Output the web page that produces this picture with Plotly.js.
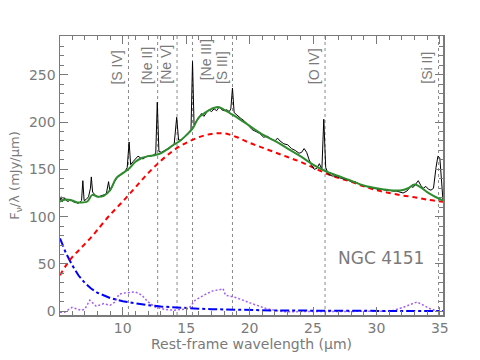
<!DOCTYPE html>
<html>
<head>
<meta charset="utf-8">
<script src="https://cdn.plot.ly/plotly-3.0.1.min.js"></script>
<style>
  body { margin: 0; background: #fff; }
  #plot { width: 480px; height: 360px; }
</style>
</head>
<body>
<div id="plot"></div>
<script>
// observed spectrum (black)
let specWave = [5.05, 5.15, 5.25, 5.4, 5.55, 5.7, 5.85, 6.0, 6.15, 6.3, 6.45, 6.6, 6.75, 6.85, 6.95,
  7.1, 7.3, 7.45, 7.52, 7.62, 7.75, 7.9, 8.1, 8.3, 8.5, 8.7, 8.88, 8.98, 9.15, 9.35, 9.55, 9.75,
  9.95, 10.15, 10.35, 10.5, 10.62, 10.8, 11.0, 11.2, 11.4, 11.6, 11.8, 12.0, 12.2, 12.4, 12.6,
  12.72, 12.85, 13.05, 13.3, 13.55, 13.8, 14.05, 14.25, 14.4, 14.6, 14.8, 15.0, 15.2, 15.38,
  15.5, 15.62, 15.8, 16.0, 16.2, 16.4, 16.6, 16.8, 17.0, 17.2, 17.4, 17.6, 17.8, 18.0, 18.2,
  18.4, 18.52, 18.65, 18.78, 19.0, 19.3, 19.6, 19.9, 20.2, 20.5, 20.8, 21.1, 21.4, 21.7, 22.0,
  22.2, 22.4, 22.7, 23.0, 23.3, 23.6, 23.9, 24.1, 24.3, 24.5, 24.7, 24.9, 25.1, 25.3, 25.5,
  25.7, 25.85, 26.0, 26.2, 26.5, 26.8, 27.1, 27.4, 27.7, 28.0, 28.3, 28.6, 28.9, 29.2, 29.5,
  29.8, 30.1, 30.4, 30.7, 31.0, 31.3, 31.6, 31.9, 32.1, 32.4, 32.7, 32.9, 33.1, 33.3, 33.5,
  33.7, 33.9, 34.1, 34.3, 34.5, 34.7, 34.85, 35.0, 35.1, 35.25];
let specFlux = [117, 121, 116, 120, 117, 116, 118, 117, 115, 116, 114, 115, 117, 138, 117,
  118, 121, 130, 142, 126, 124, 122, 121, 122, 123, 124, 137, 127, 131, 137, 141, 144,
  146, 147, 152, 179, 155, 158, 161, 164, 162, 161, 163, 164, 164, 165, 167,
  221, 169, 168, 170, 172, 174, 176, 205, 181, 181, 183, 186, 189, 192,
  264, 197, 201, 204, 209, 206, 210, 213, 211, 214, 212, 216, 213, 212, 213,
  211, 214, 236, 210, 207, 204, 201, 196, 192, 190, 188, 184, 185, 182, 180,
  183, 180, 177, 176, 172, 170, 167, 168, 172, 168, 160, 154, 150, 151, 156,
  150, 203, 152, 145, 143, 143, 141, 140, 139, 137, 137, 135, 133, 132, 131,
  130, 129, 129, 128, 128, 127, 127, 126, 125, 127, 132, 131, 135, 138, 133,
  130, 132, 129, 128, 130, 152, 164, 162, 140, 117];

// model fit (green)
let fitWave = [5.05, 5.5, 6.0, 6.4, 6.8, 7.2, 7.6, 8.0, 8.5, 9.0, 9.5, 10.0, 10.5, 11.0, 11.5,
  12.0, 12.5, 13.0, 13.5, 14.0, 14.5, 15.0, 15.5, 16.0, 16.5, 17.0, 17.5, 18.0, 18.5, 19.0,
  20.0, 21.0, 22.0, 23.0, 24.0, 25.0, 26.0, 27.0, 28.0, 29.0, 30.0, 31.0, 32.0, 32.5, 33.0,
  33.5, 34.0, 34.5, 35.25];
let fitFlux = [116, 118, 117, 115, 115, 116, 123, 121, 122, 128, 141, 146, 151, 158, 162,
  164, 165, 167, 171, 176, 180, 186, 193, 205, 210, 214, 216, 213, 209, 205,
  196, 187, 180, 172, 164, 155, 148, 143, 138, 133, 130, 128, 128, 130, 134,
  131, 126, 122, 117];

// components
let compWave = [5.05, 5.5, 6.0, 6.5, 7.0, 7.5, 8.0, 9.0, 10.0, 11.0, 12.0, 13.0, 14.0, 15.0,
  16.0, 17.0, 18.0, 19.0, 20.0, 21.0, 22.0, 23.0, 24.0, 25.0, 26.0, 27.0, 28.0, 29.0, 30.0,
  31.0, 32.0, 33.0, 34.0, 35.25];
let hotDust = [38, 48, 57, 64, 71, 78, 86, 102, 116, 131, 146, 159, 170, 178,
  184, 187.5, 188, 184, 178, 173, 168, 163, 158, 152, 146, 141, 137, 132, 128,
  125, 122.5, 120.5, 118, 115.7];
let stellar = [77, 62, 49, 38, 30, 24, 19.5, 14, 10.5, 8, 6.3, 5, 4, 3.3,
  2.7, 2.2, 1.8, 1.5, 1.2, 1.0, 0.8, 0.7, 0.6, 0.5, 0.4, 0.35, 0.3, 0.25, 0.2,
  0.2, 0.15, 0.15, 0.1, 0.1];

let pahWave = [5.05, 5.4, 6.0, 6.7, 7.0, 7.4, 7.9, 8.5, 9.0, 9.4, 9.7, 10.2, 11.0, 11.5, 12.0,
  12.55, 13.35, 14.1, 15.2, 15.7, 16.4, 17.1, 17.7, 17.9, 18.1, 18.9, 20.2, 21.3, 22.6,
  25.0, 28.0, 31.1, 32.1, 33.2, 34.2, 35.0];
let pahFlux = [-1, -1, 4, 1, 2, 11.6, 5.3, 8, 6.3, 9.8, 18, 19.4, 20.4, 17, 9.8,
  4.5, 1.8, 1, 2.8, 11.6, 17, 21.5, 23, 24, 17, 14.5, 8, 2.8, -0.5,
  -0.5, -0.5, 0, 4, 9.8, 2.8, -0.7];

// emission lines ([Ne III] label sits right of its line)
let lineWave = [10.45, 12.75, 14.28, 15.5, 18.65, 25.95, 34.9];
let lineNames = ["[S IV]", "[Ne II]", "[Ne V]", "[Ne III]", "[S III]", "[O IV]", "[Si II]"];
let labelRight = [false, false, false, true, false, false, false];

let grey = '#7a7a7a';
let labelFont = 'Liberation Sans Narrow, Liberation Sans, DejaVu Sans';

let traces = [
  { x: pahWave, y: pahFlux, mode: 'lines', line: { color: '#a35ef0', width: 1.5, dash: '2px,2px' } },
  { x: compWave, y: stellar, mode: 'lines', line: { color: '#0000ff', width: 2, dash: 'dashdot' } },
  { x: compWave, y: hotDust, mode: 'lines', line: { color: '#ff0000', width: 2, dash: '5px,4px', shape: 'spline' } },
  { x: specWave, y: specFlux, mode: 'lines', line: { color: '#000000', width: 1 } },
  { x: fitWave, y: fitFlux, mode: 'lines', line: { color: '#2e8b2e', width: 2, shape: 'spline' } }
];

let shapes = lineWave.map(w => ({
  type: 'line', xref: 'x', yref: 'paper', x0: w, x1: w, y0: 0, y1: 1,
  line: { color: '#8a8a8a', width: 1, dash: 'dot' }, layer: 'below'
}));

let annotations = lineWave.map((w, i) => ({
  x: w, y: labelRight[i] ? 242 : 238, xref: 'x', yref: 'y', text: lineNames[i], showarrow: false,
  textangle: -90, xanchor: labelRight[i] ? 'left' : 'right', yanchor: 'bottom',
  xshift: labelRight[i] ? 3 : -1,
  font: { family: labelFont, size: 14, color: grey }
}));
annotations.push({
  x: 30.4, y: 56, xref: 'x', yref: 'y', text: 'NGC 4151', showarrow: false,
  font: { family: 'DejaVu Sans', size: 17, color: grey }
});

let axisStyle = {
  showline: true, linecolor: grey, linewidth: 1.5, mirror: 'allticks',
  ticks: 'inside', ticklen: 8, tickwidth: 1, tickcolor: grey,
  showgrid: false, zeroline: false,
  tickfont: { family: 'DejaVu Sans', size: 14, color: grey }
};

let layout = {
  width: 480, height: 360,
  margin: { l: 60, r: 37, t: 36, b: 45 },
  showlegend: false,
  paper_bgcolor: '#fff', plot_bgcolor: '#fff',
  xaxis: Object.assign({}, axisStyle, {
    range: [5.05, 35.25], dtick: 5, tick0: 0,
    minor: { dtick: 1, ticks: 'inside', ticklen: 4, tickcolor: grey },
    title: { text: 'Rest-frame wavelength (μm)', standoff: 4,
      font: { family: 'DejaVu Sans', size: 14, color: grey } }
  }),
  yaxis: Object.assign({}, axisStyle, {
    range: [-4, 291], dtick: 50,
    minor: { dtick: 10, ticks: 'inside', ticklen: 4, tickcolor: grey },
    title: { text: 'F<sub>ν</sub>/λ (mJy/μm)', standoff: 6,
      font: { family: 'DejaVu Sans', size: 13, color: grey } }
  }),
  shapes: shapes,
  annotations: annotations
};

Plotly.newPlot('plot', traces, layout, { staticPlot: true });
</script>
</body>
</html>
